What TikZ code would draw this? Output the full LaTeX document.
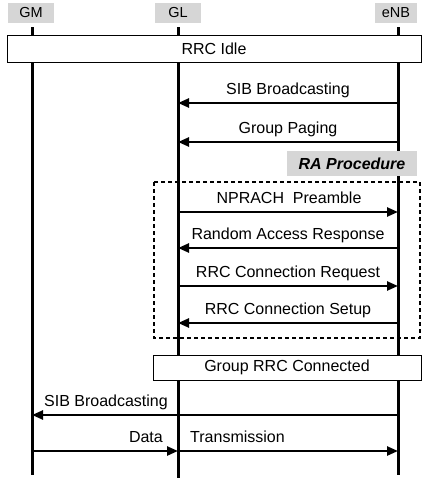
\documentclass[tikz,border=0pt]{standalone}
\usepackage{fontspec}
\setmainfont{Liberation Sans}
\usetikzlibrary{arrows.meta}
\begin{document}
\begin{tikzpicture}[x=1pt,y=-1pt,
  hdr/.style={fill=black!16, minimum height=20pt, inner sep=0pt, font=\fontsize{14.5}{16}\selectfont},
  life/.style={line width=3pt},
  msg/.style={line width=2.4pt, -{Triangle[length=11pt,width=9pt]}},
  lbl/.style={font=\fontsize{16}{18}\selectfont, inner sep=0pt},
  statebox/.style={draw, line width=0.9pt, fill=white, inner sep=0pt, font=\fontsize{16}{18}\selectfont},
  rabox/.style={fill=black!16, inner sep=0pt, font=\bfseries\itshape\fontsize{16}{18}\selectfont},
  group/.style={draw, line width=2pt, dash pattern=on 4pt off 3pt}]
\useasboundingbox (0,0) rectangle (422,479);
% headers
\node[hdr, minimum width=46pt] (hGM) at (31,13) {GM};
\node[hdr, minimum width=46pt] (hGL) at (178,13) {GL};
\node[hdr, minimum width=42pt] (heNB) at (396,13) {eNB};
% lifelines
\coordinate (GMtop) at (32,27);  \coordinate (GMend) at (32,475);
\coordinate (GLtop) at (178,27); \coordinate (GLend) at (178,478);
\coordinate (eNBtop) at (398,27); \coordinate (eNBend) at (398,475);
\draw[life] (GMtop) -- (GMend);
\draw[life] (GLtop) -- (GLend);
\draw[life] (eNBtop) -- (eNBend);
% state boxes
\node[statebox, minimum width=414pt, minimum height=27pt] (idle) at (214,48.5) {RRC Idle};
\node[statebox, minimum width=268pt, minimum height=25pt] (conn) at (287,367.5) {Group RRC Connected};
\node[rabox, minimum width=130pt, minimum height=25pt] (ra) at (352,163.5) {RA Procedure};
% dashed group
\coordinate (dA) at (154,182); \coordinate (dB) at (420,338);
\draw[group] (dA) rectangle (dB);
% message coordinates
\coordinate (m1a) at (398,103); \coordinate (m1b) at (178,103);
\coordinate (m2a) at (398,142); \coordinate (m2b) at (178,142);
\coordinate (m3a) at (178,212); \coordinate (m3b) at (398,212);
\coordinate (m4a) at (398,248); \coordinate (m4b) at (178,248);
\coordinate (m5a) at (178,286); \coordinate (m5b) at (398,286);
\coordinate (m6a) at (398,323); \coordinate (m6b) at (178,323);
\coordinate (m7a) at (398,415); \coordinate (m7b) at (32,415);
\coordinate (m8a) at (32,451);  \coordinate (m8b) at (178,451); \coordinate (m8c) at (398,451);
\draw[msg] (m1a) -- (m1b);
\draw[msg] (m2a) -- (m2b);
\draw[msg] (m3a) -- (m3b);
\draw[msg] (m4a) -- (m4b);
\draw[msg] (m5a) -- (m5b);
\draw[msg] (m6a) -- (m6b);
\draw[msg] (m7a) -- (m7b);
\draw[msg] (m8a) -- (m8b);
\draw[msg] (m8b) -- (m8c);
% labels
\node[lbl, anchor=base] (l1) at (288,94) {SIB Broadcasting};
\node[lbl, anchor=base] (l2) at (288,133) {Group Paging};
\node[lbl, anchor=base] (l3) at (289,203) {NPRACH\ \ Preamble};
\node[lbl, anchor=base] (l4) at (288,239) {Random Access Response};
\node[lbl, anchor=base] (l5) at (288,277) {RRC Connection Request};
\node[lbl, anchor=base] (l6) at (288,314) {RRC Connection Setup};
\node[lbl, anchor=base] (l7) at (106,406) {SIB Broadcasting};
\node[lbl, anchor=base east] (l8) at (163,442) {Data};
\node[lbl, anchor=base west] (l9) at (190,442) {Transmission};
\end{tikzpicture}
\end{document}
